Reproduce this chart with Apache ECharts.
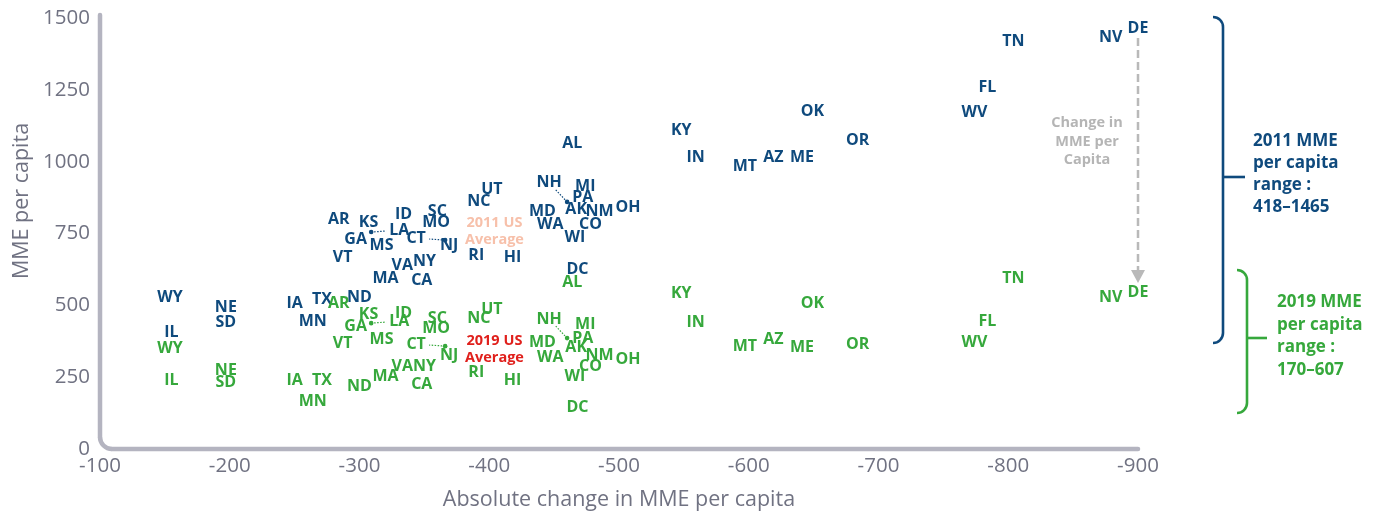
<!DOCTYPE html>
<html><head><meta charset="utf-8">
<script src="https://cdn.jsdelivr.net/npm/echarts@6/dist/echarts.min.js"></script>
<style>html,body{margin:0;padding:0;background:#fff}#c{width:1375px;height:517px}</style>
</head><body><div id="c"></div>
<script>
const states = ['WY','IL','NE','SD','IA','TX','MN','ND','AR','KS','GA','MS','ID','LA','SC','MO','CT','NJ','VT','VA','NY','MA','CA','NC','UT','RI','HI','AL','NH','MI','PA','MD','AK','NM','OH','WA','CO','WI','DC','KY','IN','MT','AZ','ME','OK','OR','WV','FL','TN','NV','DE'];
const change = [-154,-155,-197,-197,-250,-271,-264,-300,-284,-307,-297,-317,-334,-309,-360,-359,-366,-369,-287,-333,-350,-320,-348,-392,-402,-390,-418,-464,-460,-474,-472,-441,-467,-485,-507,-447,-478,-466,-468,-548,-559,-597,-619,-641,-649,-684,-774,-784,-804,-879,-900];
const mme2011 = [526,404,494,442,505,522,445,526,800,787,731,710,818,755,828,790,727,707,668,640,654,592,588,863,905,672,668,1062,860,915,874,828,835,828,839,783,780,738,626,1110,1016,982,1016,1016,1176,1075,1173,1257,1420,1431,1465];
const mme2019 = [351,240,275,233,240,240,167,216,508,470,425,383,473,438,456,418,358,324,369,289,289,254,223,456,484,268,237,578,386,432,386,372,352,327,313,320,289,254,143,540,442,358,383,355,505,365,372,445,595,529,546];
const avgLabels = ['2011 US\nAverage','2019 US\nAverage'];
const avgChange = [-404,-404];
const avgValue = [759,348];
const xTicks = [-900,-800,-700,-600,-500,-400,-300,-200,-100];
const yTicks = [0,250,500,750,1000,1250,1500];
const leaderStates = ['LA','CT','NH'];

// styling (not data)
const BLUE = '#0f4a7d', GREEN = '#36a83c', AXIS = '#b4b4c0', TICK = '#707282';
const FONT = '"Open Sans","Noto Sans",sans-serif';
const nudge = {LA:[28,-2], CT:[-29,-2], NH:[-18,-19]};

const chart = echarts.init(document.getElementById('c'), null, {renderer:'canvas'});

function stateData(vals){
  return states.map((s,i)=>{
    const d = {name:s, value:[change[i], vals[i]]};
    if (nudge[s]) d.label = {offset: nudge[s]};
    return d;
  });
}
function leaderData(vals){
  return leaderStates.map(s=>{const i=states.indexOf(s); return {name:s, value:[change[i], vals[i]]};});
}
function leaderSeries(vals, color){
  return {
    type:'custom', data: leaderData(vals), z:3, silent:true, clip:false,
    renderItem(params, api){
      const s = leaderStates[params.dataIndex];
      const p = api.coord([api.value(0), api.value(1)]);
      const o = nudge[s];
      const t = Math.min(13/Math.abs(o[0]||1e-6), 7/Math.abs(o[1]||1e-6));
      const ex = p[0] + o[0]*(1-t), ey = p[1] + o[1]*(1-t);
      return {type:'group', children:[
        {type:'line', shape:{x1:p[0],y1:p[1],x2:ex,y2:ey}, style:{stroke:color, lineWidth:1.2, lineDash:[1.5,1.5]}},
        {type:'circle', shape:{cx:p[0], cy:p[1], r:2.3}, style:{fill:color}}
      ]};
    }
  };
}
function labelSeries(vals, color){
  return {
    type:'scatter', data: stateData(vals), symbolSize:1, clip:false,
    itemStyle:{color:'transparent', opacity:1}, z:4,
    label:{show:true, position:'inside', formatter:'{b}', color:color, opacity:1,
      fontFamily:FONT, fontWeight:'bold', fontSize:16}
  };
}

const option = {
  animation:false,
  backgroundColor:'#fff',
  grid:{left:100, right:237, top:18, bottom:68},
  xAxis:{
    type:'value', inverse:true, min:xTicks[0], max:xTicks[xTicks.length-1], interval:100,
    axisLine:{show:false}, axisTick:{show:false}, splitLine:{show:false},
    axisLabel:{color:TICK, fontSize:20.5, fontFamily:FONT, margin:7, formatter:v=>String(v)},
    name:'Absolute change in MME per capita', nameLocation:'middle', nameGap:40,
    nameTextStyle:{color:TICK, fontSize:21.5, fontFamily:FONT}
  },
  yAxis:{
    type:'value', min:yTicks[0], max:yTicks[yTicks.length-1], interval:250,
    axisLine:{show:false}, axisTick:{show:false}, splitLine:{show:false},
    axisLabel:{color:TICK, fontSize:20.5, fontFamily:FONT, margin:10, formatter:v=>String(v)}
  },
  series:[
    leaderSeries(mme2011, BLUE),
    leaderSeries(mme2019, GREEN),
    labelSeries(mme2011, BLUE),
    labelSeries(mme2019, GREEN),
    {
      type:'scatter', symbolSize:1, itemStyle:{color:'transparent', opacity:1}, clip:false, z:4,
      data: avgLabels.map((l,i)=>({name:l, value:[avgChange[i], avgValue[i]],
        label:{color: i===0 ? '#f7c0aa' : '#e0201c'}})),
      label:{show:true, position:'inside', formatter:'{b}', fontFamily:FONT, fontWeight:'bold',
        fontSize:14.5, lineHeight:17, align:'center', opacity:1}
    }
  ]
};
chart.setOption(option);

// annotations computed from the axes
const o0 = chart.convertToPixel({gridIndex:0}, [xTicks[xTicks.length-1], yTicks[0]]);
const o1 = chart.convertToPixel({gridIndex:0}, [xTicks[0], yTicks[yTicks.length-1]]);
const iDE = states.indexOf('DE');
const pA = chart.convertToPixel({gridIndex:0}, [change[iDE], mme2011[iDE]]);
const pB = chart.convertToPixel({gridIndex:0}, [change[iDE], mme2019[iDE]]);
const R = 12, W = 4.5;
const axisStyle = {stroke:AXIS, lineWidth:W, lineCap:'round'};
const ax = o0[0], ay = o0[1];
const aTop = pA[1]+10, aTip = pB[1]-9;

function bracket(x, y1, y2, ym, tickLen, color){
  const r = 10;
  return [
    {type:'arc', shape:{cx:x-r, cy:y1+r, r:r, startAngle:-Math.PI/2, endAngle:0}, style:{stroke:color, lineWidth:2.6, fill:null}},
    {type:'line', shape:{x1:x, y1:y1+r, x2:x, y2:y2-r}, style:{stroke:color, lineWidth:2.6}},
    {type:'arc', shape:{cx:x-r, cy:y2-r, r:r, startAngle:0, endAngle:Math.PI/2}, style:{stroke:color, lineWidth:2.6, fill:null}},
    {type:'line', shape:{x1:x, y1:ym, x2:x+tickLen, y2:ym}, style:{stroke:color, lineWidth:2.6}}
  ];
}

chart.setOption({graphic:[
  {type:'line', shape:{x1:ax, y1:o1[1]-3, x2:ax, y2:ay-R}, style:axisStyle, silent:true},
  {type:'arc', shape:{cx:ax+R, cy:ay-R, r:R, startAngle:Math.PI/2, endAngle:Math.PI}, style:{stroke:AXIS, lineWidth:W, fill:null}, silent:true},
  {type:'line', shape:{x1:ax+R, y1:ay, x2:o1[0], y2:ay}, style:axisStyle, silent:true},
  {type:'text', x:22, y:201, rotation:Math.PI/2, style:{text:'MME per capita', fill:TICK, font:'21.5px '+FONT, align:'center', verticalAlign:'middle'}},
  // change arrow
  {type:'line', shape:{x1:pA[0], y1:aTop, x2:pA[0], y2:aTip-12}, style:{stroke:'#b9b9b9', lineWidth:2.5, lineDash:[8,4]}},
  {type:'polygon', shape:{points:[[pA[0]-7,aTip-13],[pA[0]+7,aTip-13],[pA[0],aTip]]}, style:{fill:'#b9b9b9'}},
  {type:'text', x:1087, y:114, style:{text:'Change in\nMME per\nCapita', fill:'#b5b5b5', font:'bold 14.5px '+FONT, lineHeight:18.5, align:'center', verticalAlign:'top'}},
  ...bracket(1223, 17, 343, 177, 22, BLUE),
  ...bracket(1247, 270, 413, 338, 20, GREEN),
  {type:'text', x:1253, y:130, style:{text:'2011 MME\nper capita\nrange :\n418–1465', fill:BLUE, font:'bold 17px '+FONT, lineHeight:22, align:'left', verticalAlign:'top'}},
  {type:'text', x:1277, y:291, style:{text:'2019 MME\nper capita\nrange :\n170–607', fill:GREEN, font:'bold 17px '+FONT, lineHeight:22.5, align:'left', verticalAlign:'top'}}
]});
</script></body></html>
